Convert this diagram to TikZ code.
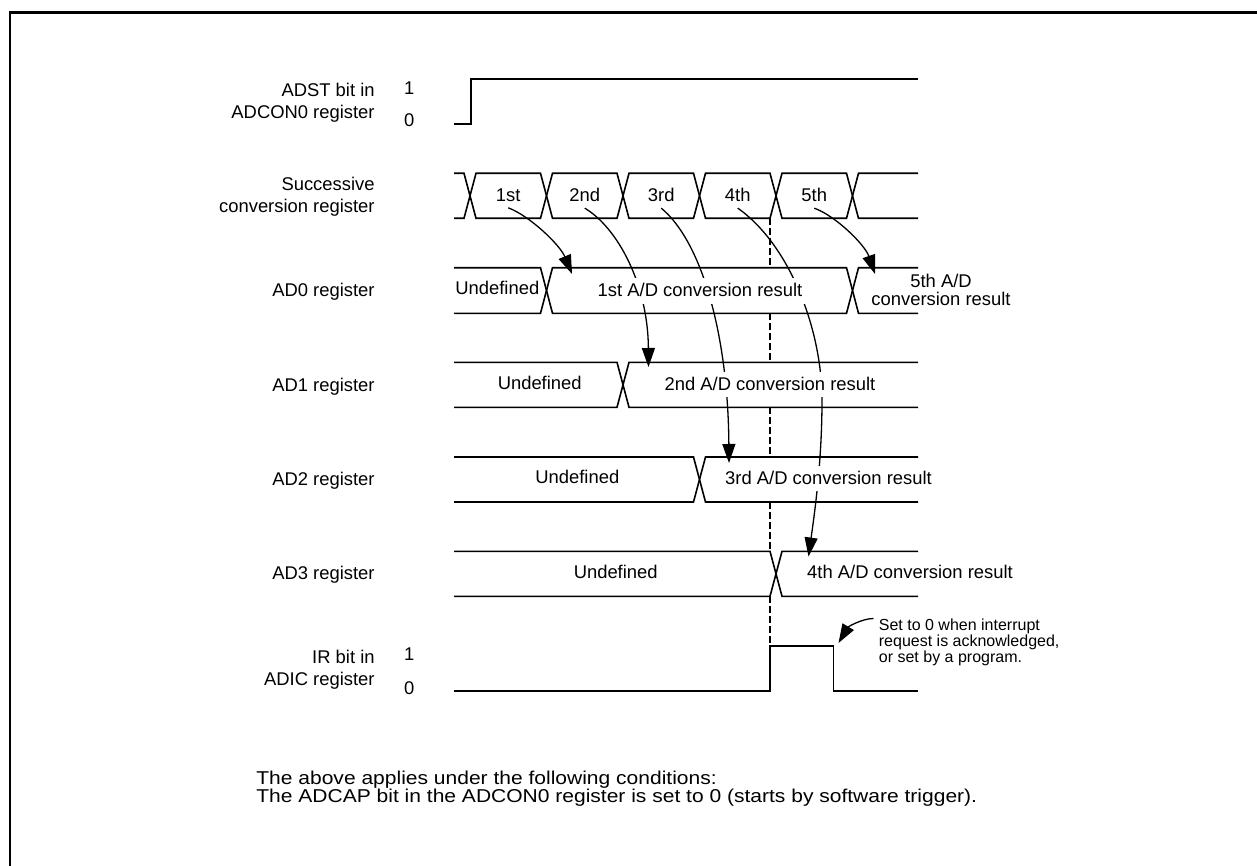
\documentclass[tikz,border=0pt]{standalone}
\usepackage{fontspec}
\setmainfont{Liberation Sans}
\newfontfamily\widesans[FakeStretch=1.13]{Liberation Sans}
\usetikzlibrary{arrows.meta}
\lineskiplimit=-100pt

\begin{document}
\begin{tikzpicture}[x=0.5pt,y=-0.5pt,
  sig/.style={line width=0.8pt},
  cur/.style={line width=0.65pt},
  arr/.style={cur,-{Triangle[length=9.5pt,width=6.5pt]}},
  guide/.style={line width=1.3pt,dash pattern=on 3.5pt off 1.5pt},
  lbl/.style={anchor=east,align=right,inner sep=0pt,font=\fontsize{9.2}{11}\selectfont},
  bit/.style={inner sep=0pt,font=\fontsize{9.2}{11}\selectfont},
  cnt/.style={inner sep=3pt,font=\fontsize{9.2}{11}\selectfont},
  val/.style={inner sep=0pt,align=center,font=\fontsize{9.2}{9.2}\selectfont},
  valw/.style={val,fill=white,inner xsep=1.5pt,text height=9.2pt,text depth=3.5pt}]
\useasboundingbox (0,0) rectangle (1257,866);
\draw[line width=1.35pt] (10,866) -- (10,12.7) -- (1257,12.7);

% signal names
\node[lbl] (adst) at (375,103) {ADST bit in\\ADCON0 register};
\node[bit] (adst1) at (409.3,88) {1};
\node[bit] (adst0) at (409.3,120) {0};
\node[lbl] (succ) at (375,197) {Successive\\conversion register};
\node[lbl] (ad0) at (375,291.3) {AD0 register};
\node[lbl] (ad1) at (375,386.3) {AD1 register};
\node[lbl] (ad2) at (375,481) {AD2 register};
\node[lbl] (ad3) at (375,575) {AD3 register};
\node[lbl] (ir) at (375,670) {IR bit in\\ADIC register};
\node[bit] (ir1) at (409.3,653.7) {1};
\node[bit] (ir0) at (409.3,687.7) {0};

% waveforms
\draw[sig] (454,124) -- (470.7,124) -- (470.7,79) -- (918,79);
\draw[sig] (454,173.3) -- (464,173.3) -- (476,218.3) -- (540.5,218.3) -- (552.5,173.3) -- (617,173.3) -- (629,218.3) -- (693.5,218.3) -- (705.5,173.3) -- (770,173.3) -- (782,218.3) -- (846.5,218.3) -- (858.5,173.3) -- (918,173.3);
\draw[sig] (454,218.3) -- (464,218.3) -- (476,173.3) -- (540.5,173.3) -- (552.5,218.3) -- (617,218.3) -- (629,173.3) -- (693.5,173.3) -- (705.5,218.3) -- (770,218.3) -- (782,173.3) -- (846.5,173.3) -- (858.5,218.3) -- (918,218.3);
\draw[sig] (454,267.7) -- (540.5,267.7) -- (552.5,313.3) -- (846.5,313.3) -- (858.5,267.7) -- (918,267.7);
\draw[sig] (454,313.3) -- (540.5,313.3) -- (552.5,267.7) -- (846.5,267.7) -- (858.5,313.3) -- (918,313.3);
\draw[sig] (454,362.3) -- (617,362.3) -- (629,407.3) -- (918,407.3);
\draw[sig] (454,407.3) -- (617,407.3) -- (629,362.3) -- (918,362.3);
\draw[sig] (454,457) -- (693.5,457) -- (705.5,502) -- (918,502);
\draw[sig] (454,502) -- (693.5,502) -- (705.5,457) -- (918,457);
\draw[sig] (454,551.3) -- (770,551.3) -- (782,596.3) -- (918,596.3);
\draw[sig] (454,596.3) -- (770,596.3) -- (782,551.3) -- (918,551.3);
\draw[sig] (454,690.7) -- (770,690.7) -- (770,645.7) -- (833.3,645.7) -- (833.3,690.7) -- (918,690.7);
\draw[guide] (770,218.3) -- (770,267.7) (770,313.3) -- (770,362.3) (770,407.3) -- (770,457) (770,502) -- (770,551.3) (770,596.3) -- (770,645.7);

% conversion steps
\node[cnt] (s1) at (508.25,195) {1st};
\node[cnt] (s2) at (584.75,195) {2nd};
\node[cnt] (s3) at (661.25,195) {3rd};
\node[cnt] (s4) at (737.75,195) {4th};
\node[cnt] (s5) at (814.25,195) {5th};

\coordinate (t1) at (572,274);
\coordinate (t2) at (648.5,367);
\coordinate (t3) at (729,463);
\coordinate (t4) at (808.5,556.5);
\coordinate (t5) at (875,274);
\coordinate (tn) at (838.5,643);
\draw[arr] (s1.south) .. controls (530,216) and (560,245) .. (t1);
\draw[arr] (s2.south) .. controls (618,228) and (648,285) .. (t2);
\draw[arr] (s3.south) .. controls (700,240) and (728,330) .. (t3);
\draw[arr] (s4.south) .. controls (790,245) and (822,330) .. (822,400) .. controls (822,460) and (815,510) .. (t4);
\draw[arr] (s5.south) .. controls (836,216) and (865,245) .. (t5);

% register contents
\node[val] (u0) at (497.3,288) {Undefined};
\node[valw] (r1) at (700,291) {1st A/D conversion result};
\node[val] (r5) at (941,290) {5th A/D\\conversion result};
\node[val] (u1) at (539.7,383.3) {Undefined};
\node[valw] (r2) at (770,384.3) {2nd A/D conversion result};
\node[val] (u2) at (577.3,477.3) {Undefined};
\node[valw] (r3) at (828.5,478.3) {3rd A/D conversion result};
\node[val] (u3) at (615.7,572.3) {Undefined};
\node[val] (r4) at (910,572.3) {4th A/D conversion result};

\node[anchor=north west,inner xsep=2.5pt,inner ysep=0pt,align=left,font=\fontsize{8}{8}\selectfont] (note) at (873.5,618.5) {Set to 0 when interrupt\\request is acknowledged,\\or set by a program.};
\draw[arr] (note.north west) .. controls (862,618.5) and (848,627) .. (tn);

\node[anchor=north west,inner sep=0pt,align=left,font=\widesans\fontsize{9.3}{8.6}\selectfont] (cond) at (256,771) {The above applies under the following conditions:\\The ADCAP bit in the ADCON0 register is set to 0 (starts by software trigger).};
\end{tikzpicture}
\end{document}
